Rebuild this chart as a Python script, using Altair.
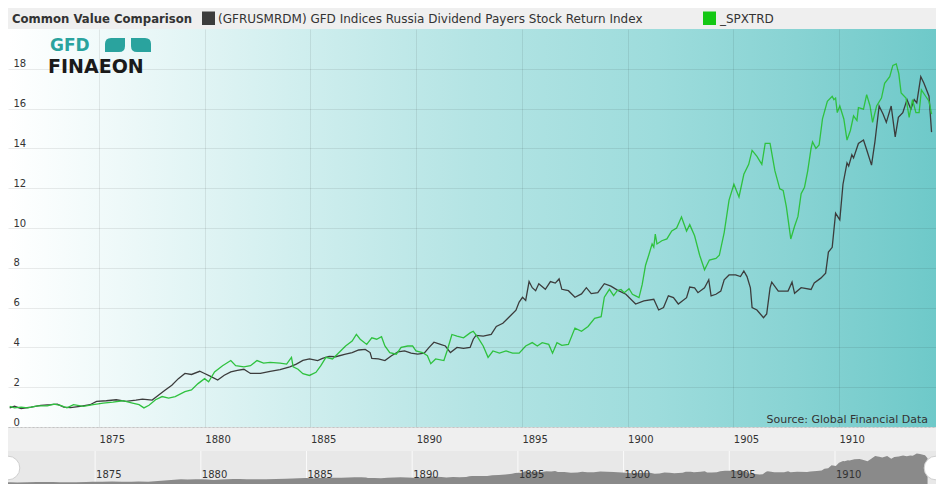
import altair as alt
import pandas as pd

# ---------------- data ----------------
BLACK_NAME = "(GFRUSMRDM) GFD Indices Russia Dividend Payers Stock Return Index"
GREEN_NAME = "_SPXTRD"

black_years = [
    1870.77, 1871.00, 1871.31, 1871.78, 1872.24, 1872.71, 1873.02, 1873.33, 1873.64, 1874.10,
    1874.57, 1874.88, 1875.34, 1875.81, 1876.27, 1876.74, 1877.05, 1877.51, 1877.82, 1878.13,
    1878.44, 1878.75, 1879.06, 1879.37, 1879.76, 1879.99, 1880.30, 1880.61, 1880.92, 1881.23,
    1881.54, 1881.85, 1882.16, 1882.63, 1883.09, 1883.56, 1884.02, 1884.33, 1884.64,
    1884.95, 1885.34, 1885.57, 1885.88, 1886.19, 1886.66, 1886.97, 1887.28, 1887.59, 1887.82,
    1887.90, 1888.21, 1888.52, 1888.83, 1889.14, 1889.45, 1889.76, 1890.07, 1890.38, 1890.61,
    1890.84, 1891.15, 1891.38, 1891.62, 1891.93, 1892.24, 1892.55, 1892.70, 1892.83, 1893.17,
    1893.55, 1893.79, 1894.10, 1894.41, 1894.72, 1894.87, 1895.03, 1895.18, 1895.34, 1895.49,
    1895.65, 1895.80, 1896.11, 1896.35, 1896.58, 1896.76, 1896.89, 1897.20, 1897.51, 1897.82,
    1898.05, 1898.28, 1898.59, 1898.90, 1899.21, 1899.52,
    1899.92, 1900.38, 1900.77, 1901.24, 1901.47, 1901.70, 1901.93, 1902.17, 1902.40, 1902.79,
    1902.94, 1903.17, 1903.33, 1903.64, 1903.84, 1903.95, 1904.18, 1904.41, 1904.57, 1904.80,
    1905.11, 1905.34, 1905.50, 1905.65, 1905.81, 1905.89, 1906.12, 1906.43, 1906.58, 1906.74,
    1906.82, 1907.13, 1907.59, 1907.78,
    1907.90, 1908.21, 1908.68, 1908.83, 1909.14, 1909.37, 1909.50, 1909.68, 1909.84, 1910.04,
    1910.19, 1910.38, 1910.46, 1910.61, 1910.69, 1910.92, 1911.16, 1911.31, 1911.54, 1911.70,
    1911.90, 1912.09, 1912.24, 1912.47, 1912.66, 1912.81, 1913.02, 1913.22, 1913.40, 1913.56,
    1913.68, 1913.87, 1914.02, 1914.26, 1914.38,
]
black_values = [
    0.96, 1.04, 0.93, 1.00, 1.09, 1.12, 1.15, 1.00, 0.97, 1.04,
    1.12, 1.29, 1.32, 1.37, 1.29, 1.35, 1.40, 1.35, 1.61, 1.86,
    2.10, 2.43, 2.69, 2.64, 2.80, 2.69, 2.53, 2.36, 2.60, 2.77,
    2.85, 2.90, 2.69, 2.69, 2.80, 2.88, 3.02, 3.16, 3.35,
    3.42, 3.34, 3.45, 3.55, 3.53, 3.66, 3.74, 3.87, 3.90, 3.74,
    3.45, 3.42, 3.34, 3.58, 3.77, 3.82, 3.71, 3.66, 3.71, 4.00,
    4.26, 4.15, 4.07, 3.74, 4.00, 3.95, 4.00, 4.41, 4.60, 4.57,
    4.65, 5.05, 5.21, 5.54, 5.87, 6.28, 6.52, 6.36, 7.31, 7.00,
    6.85, 7.20, 6.92, 7.31, 7.23, 7.44, 6.92, 6.85, 6.52, 6.69,
    7.00, 6.70, 6.75, 7.20, 7.08, 6.88,
    6.67, 6.18, 6.34, 6.42, 5.88, 6.00, 6.59, 6.50, 6.18, 6.50,
    7.03, 6.99, 6.75, 6.99, 7.40, 6.59, 6.67, 6.83, 7.40, 7.64,
    7.64, 7.56, 7.84, 7.56, 6.99, 6.00, 5.88, 5.49, 5.68, 6.99,
    7.28, 6.83, 6.83, 7.28,
    6.72, 7.00, 6.91, 7.24, 7.48, 7.73, 8.79, 9.03, 10.74, 10.41,
    12.20, 13.27, 13.11, 13.68, 13.52, 14.25, 14.42, 13.93, 13.16, 14.33,
    16.13, 15.72, 15.31, 16.13, 14.58, 15.56, 15.80, 16.45, 15.97, 16.45,
    16.29, 17.60, 17.27, 16.62, 14.82,
]

green_years = [
    1870.77, 1871.00, 1871.31, 1871.62, 1872.09, 1872.55, 1872.86, 1873.17, 1873.48, 1873.79,
    1874.26, 1874.72, 1875.19, 1875.65, 1876.12, 1876.58, 1876.89, 1877.12, 1877.36, 1877.67,
    1877.98, 1878.29, 1878.60, 1879.06, 1879.37, 1879.68, 1879.99, 1880.18, 1880.46, 1880.84,
    1881.23, 1881.46, 1881.85, 1882.16, 1882.47, 1882.78, 1883.09, 1883.56, 1883.87, 1884.10,
    1884.18, 1884.41, 1884.64,
    1884.95, 1885.26, 1885.49, 1885.73, 1886.04, 1886.35, 1886.66, 1886.97, 1887.17, 1887.35,
    1887.66, 1887.90, 1888.13, 1888.36, 1888.52, 1888.75, 1889.06, 1889.29, 1889.60, 1889.83,
    1889.99, 1890.30, 1890.53, 1890.69, 1890.92, 1891.31, 1891.46, 1891.69, 1891.93, 1892.24,
    1892.55, 1892.70, 1892.93, 1893.17, 1893.40, 1893.63, 1893.94, 1894.25, 1894.56, 1894.87,
    1895.18, 1895.49, 1895.73, 1895.96, 1896.27, 1896.45, 1896.66, 1896.89, 1897.20, 1897.51,
    1897.82, 1898.13, 1898.44, 1898.75, 1898.90, 1899.14, 1899.34, 1899.52,
    1899.69, 1899.84, 1900.07, 1900.23, 1900.38, 1900.54, 1900.69, 1900.85, 1901.00, 1901.16,
    1901.24, 1901.31, 1901.39, 1901.62, 1901.86, 1902.09, 1902.32, 1902.55, 1902.79, 1902.94,
    1903.17, 1903.41, 1903.64, 1903.87, 1904.18, 1904.34, 1904.57, 1904.80, 1905.03, 1905.27,
    1905.50, 1905.73, 1905.89, 1906.12, 1906.35, 1906.51, 1906.74, 1906.97, 1907.20, 1907.36,
    1907.51, 1907.72,
    1907.90, 1908.06, 1908.21, 1908.37, 1908.52, 1908.68, 1908.75, 1908.91, 1909.06, 1909.22,
    1909.45, 1909.68, 1909.76, 1909.84, 1909.92, 1910.04, 1910.23, 1910.38, 1910.54, 1910.69,
    1910.85, 1910.92, 1911.16, 1911.31, 1911.47, 1911.59, 1911.78, 1912.01, 1912.16, 1912.40,
    1912.55, 1912.71, 1912.83, 1912.94, 1913.17, 1913.32, 1913.48, 1913.64, 1913.79, 1913.90,
    1914.10, 1914.26, 1914.38,
]
green_values = [
    1.04, 0.96, 1.00, 0.96, 1.06, 1.06, 1.15, 1.09, 0.96, 1.12,
    1.04, 1.12, 1.20, 1.25, 1.32, 1.20, 1.12, 0.96, 1.09, 1.37,
    1.53, 1.45, 1.53, 1.78, 1.86, 2.18, 2.43, 2.27, 2.77, 3.08,
    3.34, 3.08, 3.02, 3.08, 3.34, 3.21, 3.25, 3.21, 3.16, 3.50,
    3.02, 2.90, 2.68,
    2.59, 2.75, 3.08, 3.50, 3.42, 3.74, 4.07, 4.32, 4.65, 4.41,
    4.15, 4.48, 4.41, 4.54, 4.07, 3.74, 3.66, 4.00, 4.07, 4.07,
    3.82, 3.74, 3.58, 3.18, 3.42, 3.34, 3.82, 4.65, 4.57, 4.48,
    4.73, 4.81, 4.48, 4.07, 3.50, 3.82, 3.71, 3.82, 3.71, 3.71,
    4.07, 4.24, 4.07, 4.24, 4.15, 3.71, 4.24, 4.10, 4.15, 4.97,
    4.81, 5.05, 5.46, 5.54, 6.52, 6.92, 6.60, 6.86,
    6.91, 6.75, 6.95, 6.67, 6.59, 6.50, 7.15, 8.13, 8.63, 9.20,
    9.04, 9.69, 9.20, 9.36, 9.45, 9.85, 10.00, 10.55, 9.85, 10.17,
    9.61, 8.63, 7.90, 8.39, 8.47, 8.63, 9.77, 11.40, 12.20, 11.56,
    12.70, 13.20, 13.90, 13.60, 13.20, 14.25, 14.25, 12.87, 11.97, 11.89,
    11.07, 9.45,
    10.09, 10.58, 11.72, 12.05, 12.86, 14.00, 14.33, 14.00, 14.17, 15.48,
    16.37, 16.62, 16.45, 16.53, 15.80, 16.13, 15.48, 14.42, 14.90, 15.64,
    15.40, 16.05, 15.97, 16.70, 16.13, 15.31, 16.13, 16.53, 17.27, 17.60,
    18.17, 18.25, 17.76, 16.78, 16.53, 15.56, 16.45, 15.80, 15.80, 16.94,
    16.62, 16.37, 15.72,
]

x_ticks = [1875, 1880, 1885, 1890, 1895, 1900, 1905, 1910]
y_ticks = [0, 2, 4, 6, 8, 10, 12, 14, 16, 18]
x_domain = [1870.69, 1914.59]
y_domain = [0, 20]

series_names = [BLACK_NAME, GREEN_NAME]
series_colors = ["#3c3c3c", "#2fc23f"]

# ---------------- layout ----------------
W = 928
H = 398
TOP = 21
BAND = 24      # x-axis label band
NAV = 33       # navigator strip
FONT = "DejaVu Sans"

df_lines = pd.concat([
    pd.DataFrame({"year": black_years, "value": black_values, "series": BLACK_NAME}),
    pd.DataFrame({"year": green_years, "value": green_values, "series": GREEN_NAME}),
], ignore_index=True)
df_nav = pd.DataFrame({"year": black_years, "value": black_values})
df_ticks = pd.DataFrame({"year": x_ticks, "label": [str(t) for t in x_ticks]})
one = pd.DataFrame({"a": [0]})

xscale = alt.Scale(domain=x_domain, nice=False, zero=False)

gradient = {
    "gradient": "linear", "x1": 0, "y1": 0, "x2": 1, "y2": 0,
    "stops": [
        {"offset": 0.0, "color": "#ffffff"},
        {"offset": 0.12, "color": "#eef9f9"},
        {"offset": 0.3, "color": "#d2efef"},
        {"offset": 0.5, "color": "#b4e4e4"},
        {"offset": 0.7, "color": "#9ddcdc"},
        {"offset": 0.85, "color": "#88d3d3"},
        {"offset": 1.0, "color": "#6ec9c9"},
    ],
}

bg = alt.Chart(one).mark_rect(fill=gradient, strokeWidth=0).encode(
    x=alt.value(0), x2=alt.value(W), y=alt.value(0), y2=alt.value(H)
)

lines = alt.Chart(df_lines).mark_line(strokeWidth=1.3, clip=True).encode(
    x=alt.X("year:Q", scale=xscale, title=None,
            axis=alt.Axis(values=x_ticks, format="d", grid=True, gridColor="#000000",
                          gridOpacity=0.08, domain=True, domainColor="#c4c4c4",
                          domainDash=[2, 2], ticks=False, labelAlign="left",
                          labelBaseline="middle", labelPadding=12, labelFontSize=10,
                          labelColor="#333333", labelOverlap=False, labelFlush=False,
                          labelBound=False, zindex=1)),
    y=alt.Y("value:Q", scale=alt.Scale(domain=y_domain, nice=False), title=None,
            axis=alt.Axis(values=y_ticks, grid=True, gridColor="#000000", gridOpacity=0.08,
                          domain=False, ticks=False, labelAlign="left",
                          labelBaseline="middle", labelPadding=-5, labelOffset=-5,
                          labelFontSize=10, labelColor="#333333", zindex=1)),
    color=alt.Color("series:N", scale=alt.Scale(domain=series_names, range=series_colors),
                    legend=None),
)

source = alt.Chart(one).mark_text(
    text="Source: Global Financial Data", align="right", baseline="middle",
    fontSize=11, color="#333333", font=FONT,
).encode(x=alt.value(W - 8), y=alt.value(H - 7))

# logo
logo_gfd = alt.Chart(one).mark_text(
    text="GFD", align="left", baseline="alphabetic", fontSize=17, fontWeight="bold",
    color="#2aa39e", font=FONT,
).encode(x=alt.value(42), y=alt.value(22))
leaf_path = "M -1 -0.7 L 0.4 -0.7 Q 1 -0.7 1 -0.1 L 1 0.7 L -0.4 0.7 Q -1 0.7 -1 0.1 Z"
leaf_path2 = "M 1 -0.7 L -0.4 -0.7 Q -1 -0.7 -1 -0.1 L -1 0.7 L 0.4 0.7 Q 1 0.7 1 0.1 Z"
leaf1 = alt.Chart(one).mark_point(
    shape=leaf_path2, filled=True, color="#2aa39e", size=400, opacity=1, strokeWidth=0
).encode(x=alt.value(107), y=alt.value(16))
leaf2 = alt.Chart(one).mark_point(
    shape=leaf_path, filled=True, color="#2aa39e", size=400, opacity=1, strokeWidth=0
).encode(x=alt.value(133), y=alt.value(16))
logo_fin = alt.Chart(one).mark_text(
    text="FINAEON", align="left", baseline="alphabetic", fontSize=19, fontWeight="bold",
    color="#1a1a1a", font=FONT,
).encode(x=alt.value(40), y=alt.value(44))

# header
title = alt.Chart(one).mark_text(
    text="Common Value Comparison", align="left", baseline="middle", fontSize=11.7,
    fontWeight="bold", color="#333333", font=FONT,
).encode(x=alt.value(4), y=alt.value(-10.5))
sq1 = alt.Chart(one).mark_rect(color="#3c3c3c").encode(
    x=alt.value(194), x2=alt.value(207), y=alt.value(-17.5), y2=alt.value(-4)
)
lab1 = alt.Chart(one).mark_text(
    text=BLACK_NAME, align="left", baseline="middle", fontSize=12, color="#333333",
    font=FONT,
).encode(x=alt.value(210), y=alt.value(-10.5))
sq2 = alt.Chart(one).mark_rect(color="#14c814").encode(
    x=alt.value(695), x2=alt.value(708), y=alt.value(-17.5), y2=alt.value(-4)
)
lab2 = alt.Chart(one).mark_text(
    text=GREEN_NAME, align="left", baseline="middle", fontSize=12, color="#333333",
    font=FONT,
).encode(x=alt.value(712), y=alt.value(-10.5))

# navigator
nav_top = H + BAND
nav_bot = H + BAND + NAV
nav_bg = alt.Chart(one).mark_rect(color="#e8e8e8").encode(
    x=alt.value(0), x2=alt.value(W), y=alt.value(nav_top), y2=alt.value(nav_bot)
)
nav_grid = alt.Chart(df_ticks).mark_rule(color="#fafafa", strokeWidth=1, xOffset=-4).encode(
    x=alt.X("year:Q", scale=xscale), y=alt.value(nav_top), y2=alt.value(nav_bot)
)
nav_area = alt.Chart(df_nav).mark_area(color="#8a8a8a", opacity=1, xOffset=-4).encode(
    x=alt.X("year:Q", scale=xscale),
    y=alt.Y("value:Q", scale=alt.Scale(domain=[0, 19], range=[nav_bot, nav_top], nice=False),
            axis=None),
)
nav_labels = alt.Chart(df_ticks).mark_text(
    align="left", baseline="middle", fontSize=10, color="#333333", dx=-3, font=FONT
).encode(x=alt.X("year:Q", scale=xscale), y=alt.value(nav_top + 24), text="label:N")
handle_l = alt.Chart(one).mark_point(
    shape="circle", filled=True, color="#ffffff", size=560, opacity=1,
    stroke="#cfcfcf", strokeWidth=1,
).encode(x=alt.value(0), y=alt.value(nav_top + 17))
handle_r = alt.Chart(one).mark_point(
    shape="circle", filled=True, color="#ffffff", size=560, opacity=1,
    stroke="#cfcfcf", strokeWidth=1,
).encode(x=alt.value(W), y=alt.value(nav_top + 17))

chart = alt.layer(
    bg, lines, source, logo_gfd, leaf1, leaf2, logo_fin,
    title, sq1, lab1, sq2, lab2,
    nav_bg, nav_grid, nav_area, nav_labels, handle_l, handle_r,
).resolve_scale(y="independent").properties(
    width=W, height=H,
    padding={"top": TOP, "bottom": BAND + NAV, "left": 0, "right": 0},
    autosize=alt.AutoSizeParams(type="none"),
    background="#efefef",
).configure(font=FONT).configure_view(stroke=None)

chart.save("out.html", embed_options={"renderer": "svg", "actions": False})
